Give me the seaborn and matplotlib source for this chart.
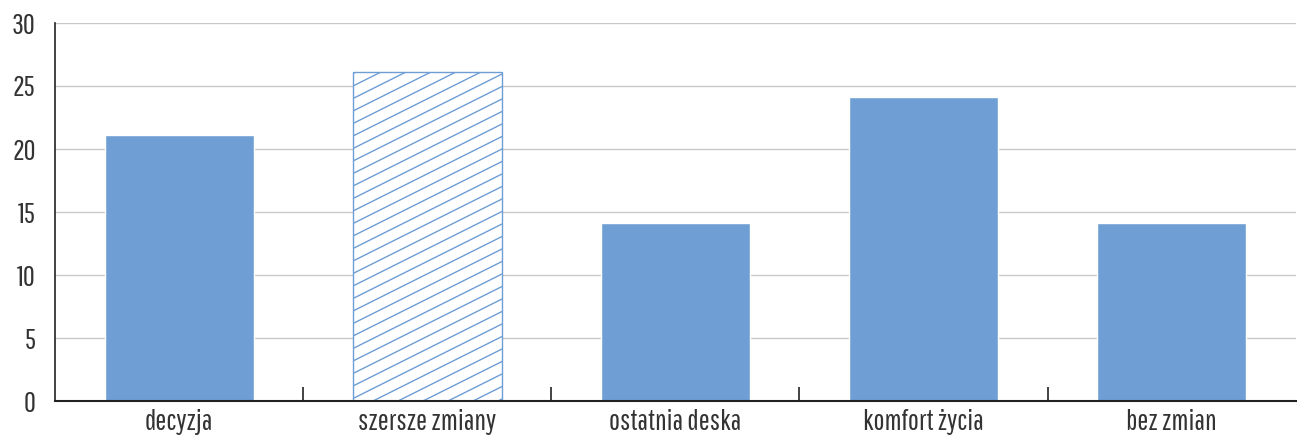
import warnings
warnings.filterwarnings("ignore")
import matplotlib
matplotlib.use("Agg")
import matplotlib.pyplot as plt
import matplotlib.hatch as mhatch
from matplotlib.path import Path
import seaborn as sns
import pandas as pd
import numpy as np

categories = ["decyzja", "szersze zmiany", "ostatnia deska", "komfort życia", "bez zmian"]
values = [21.1, 26.1, 14.1, 24.1, 14.1]
y_ticks = [0, 5, 10, 15, 20, 25, 30]


class ShallowHatch(mhatch.HatchPatternBase):
    """Shallow diagonal hatch (slope 1/2), drawn for the 'z' character."""
    def __init__(self, hatch, density):
        self.N = 8
        self.ks = list(range(-self.N, self.N + 1)) if 'z' in hatch else []
        self.num_lines = len(self.ks)
        self.num_vertices = self.num_lines * 2

    def set_vertices_and_codes(self, vertices, codes):
        x0, x1 = -0.5, 1.5
        for i, k in enumerate(self.ks):
            c = k / self.N
            vertices[2 * i] = (x0, x0 / 2 + c)
            vertices[2 * i + 1] = (x1, x1 / 2 + c)
            codes[2 * i] = Path.MOVETO
            codes[2 * i + 1] = Path.LINETO


mhatch._hatch_types.append(ShallowHatch)

sns.set_style("white")
plt.rcParams['font.family'] = ['Pathway Gothic One', 'DejaVu Sans']
plt.rcParams['hatch.linewidth'] = 1.0
plt.rcParams['hatch.color'] = '#6F9ED4'

blue = '#6F9ED4'
df = pd.DataFrame({"cat": categories, "val": values})

fig = plt.figure(figsize=(12.97, 4.36), dpi=100)
ax = fig.add_axes([55/1297, 35/436, 1 - 55/1297 - 0.001, (401-23)/436])
sns.barplot(data=df, x="cat", y="val", color=blue, width=0.6, ax=ax, saturation=1)

# hatch second bar
p = ax.patches[1]
p.set_facecolor('white')
p.set_edgecolor(blue)
p.set_hatch('z')
p.set_linewidth(1.0)

ax.set_ylim(0, 30)
ax.set_xlim(-0.5, len(categories) - 0.5)
ax.set_yticks(y_ticks)
ax.set_yticklabels([str(t) for t in y_ticks])
ax.set_xlabel("")
ax.set_ylabel("")
ax.yaxis.grid(True, color='#c8c8c8', linewidth=1)
ax.set_axisbelow(True)
for s in ['top', 'right']:
    ax.spines[s].set_visible(False)
ax.spines['left'].set_color('#222222')
ax.spines['left'].set_linewidth(1.2)
ax.spines['bottom'].set_color('#222222')
ax.spines['bottom'].set_linewidth(1.5)
ax.tick_params(axis='y', left=False, length=0, labelsize=21, labelcolor='#333333', pad=14)
ax.tick_params(axis='x', which='major', bottom=False, length=0, labelsize=21, labelcolor='#333333', pad=6)
ax.set_xticks(np.arange(0.5, len(categories) - 1, 1.0), minor=True)
ax.tick_params(axis='x', which='minor', bottom=True, direction='in', length=10, width=1.2, color='#222222')

fig.savefig("out.png", dpi=100)
